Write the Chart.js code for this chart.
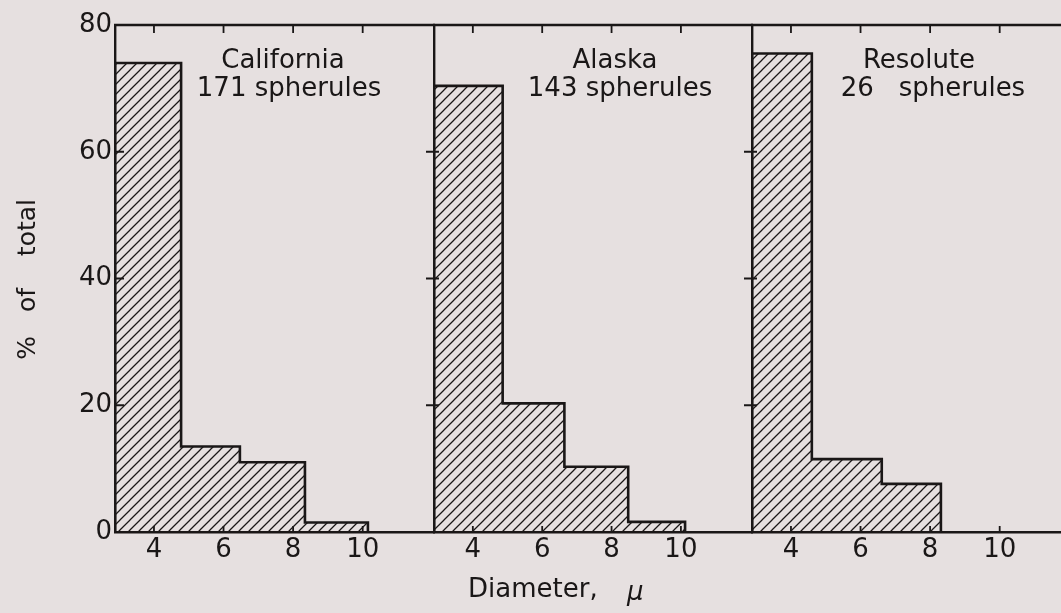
<!DOCTYPE html>
<html>
<head>
<meta charset="utf-8">
<script src="https://cdn.jsdelivr.net/npm/chart.js@4.4.1/dist/chart.umd.min.js"></script>
<style>
  html, body { margin: 0; padding: 0; width: 1061px; height: 613px; overflow: hidden; background: #e6e0e0; }
  #fig { position: relative; width: 1061px; height: 613px; }
  .panel { position: absolute; top: 0; }
</style>
</head>
<body>
<div id="fig"></div>
<script>
// Size distribution of spherules at three collection sites.
// Each site: diameter class edges (μ) and percent of total in each class.
const sites = ['California', 'Alaska', 'Resolute'];
const spheruleCounts = [171, 143, 26];

const californiaEdges = [2.88, 4.78, 6.47, 8.34, 10.15];
const californiaPercent = [74.0, 13.5, 11.0, 1.5];

const alaskaEdges = [2.88, 4.86, 6.64, 8.48, 10.12];
const alaskaPercent = [70.4, 20.3, 10.3, 1.6];

const resoluteEdges = [2.88, 4.60, 6.61, 8.31];
const resolutePercent = [75.5, 11.5, 7.6];

const diameterTicks = [4, 6, 8, 10];
const percentTicks = [0, 20, 40, 60, 80];

const siteEdges = [californiaEdges, alaskaEdges, resoluteEdges];
const sitePercent = [californiaPercent, alaskaPercent, resolutePercent];

// ---- look & layout ----
const INK = '#1a1717';
const FONT = '"DejaVu Sans", "Liberation Sans", sans-serif';
const TICK_PX = 26;
const CAPTION_PX = 26;
const X_MIN = 2.88, X_MAX = 12.05;
const Y_MIN = 0, Y_MAX = 80;
const PLOT_TOP = 25, AXIS_H = 81, PAGE_H = 613;
const panelLeft = [115, 434, 752];
const panelWidth = [319, 318, 319];
const overhang = 10;          // room left of panels 2 and 3 for the crossing ticks
const padRight = 6;
// caption placement inside each panel (px from panel left edge, px from page top)
const nameCenter = [168, 181, 167];
const countCenter = [174, 186, 181];
const countGap = [' ', ' ', '   '];
const NAME_Y = 61, COUNT_Y = 89;

// diagonal hatch used to fill the histogram bars
function makeHatch(period, color, width) {
  const c = document.createElement('canvas');
  c.width = c.height = period;
  const g = c.getContext('2d');
  g.strokeStyle = color;
  g.lineWidth = width;
  g.beginPath();
  g.moveTo(-1, period + 1); g.lineTo(period + 1, -1);
  g.moveTo(-1, 1); g.lineTo(1, -1);
  g.moveTo(period - 1, period + 1); g.lineTo(period + 1, period - 1);
  g.stroke();
  return g.createPattern(c, 'repeat');
}

// outline of a histogram as a stepped polyline closed down to zero
function histogramPoints(edges, values) {
  const pts = [{ x: edges[0], y: 0 }];
  values.forEach((v, i) => pts.push({ x: edges[i], y: v }));
  const last = edges[edges.length - 1];
  pts.push({ x: last, y: values[values.length - 1] });
  pts.push({ x: last, y: 0 });
  return pts;
}

// panel frame: top edge and inward tick marks, plus free-standing captions
const framePlugin = {
  id: 'frame',
  afterDatasetsDraw(chart, args, opts) {
    const { ctx, chartArea: a, scales: { x, y } } = chart;
    ctx.save();
    ctx.strokeStyle = INK;
    ctx.lineCap = 'butt';
    ctx.lineWidth = 2.4;
    ctx.beginPath();
    ctx.moveTo(a.left - 1, a.top);
    ctx.lineTo(a.right + 1, a.top);
    ctx.stroke();

    ctx.lineWidth = 1.8;
    ctx.beginPath();
    diameterTicks.forEach(v => {
      const px = x.getPixelForValue(v);
      ctx.moveTo(px, a.top);
      ctx.lineTo(px, a.top + 8);
      ctx.moveTo(px, a.bottom);
      ctx.lineTo(px, a.bottom - 6);
    });
    percentTicks.slice(1, -1).forEach(v => {
      const py = y.getPixelForValue(v);
      ctx.moveTo(a.left - opts.tickOut, py);
      ctx.lineTo(a.left + opts.tickIn, py);
    });
    ctx.stroke();

    ctx.fillStyle = INK;
    ctx.textBaseline = 'middle';
    (opts.texts || []).forEach(t => {
      ctx.save();
      ctx.font = (t.italic ? 'italic ' : '') + (t.size || CAPTION_PX) + 'px ' + FONT;
      ctx.translate(t.x, t.y);
      if (t.rotate) ctx.rotate(t.rotate);
      ctx.textAlign = t.align || 'center';
      ctx.fillText(t.text, 0, 0);
      ctx.restore();
    });
    ctx.restore();
  }
};

const fig = document.getElementById('fig');

sites.forEach((site, i) => {
  const first = i === 0;
  const canvasLeft = first ? 0 : panelLeft[i] - overhang;
  const yAxisW = first ? panelLeft[0] : 0;
  const padLeft = first ? 0 : overhang;
  const width = (panelLeft[i] - canvasLeft) + panelWidth[i] + padRight;

  const wrap = document.createElement('div');
  wrap.className = 'panel';
  wrap.style.left = canvasLeft + 'px';
  wrap.style.width = width + 'px';
  wrap.style.height = PAGE_H + 'px';
  const cv = document.createElement('canvas');
  cv.width = width; cv.height = PAGE_H;
  cv.style.width = width + 'px'; cv.style.height = PAGE_H + 'px';
  wrap.appendChild(cv);
  fig.appendChild(wrap);

  const off = panelLeft[i] - canvasLeft;   // panel left edge in canvas px
  const texts = [
    { text: site, x: off + nameCenter[i], y: NAME_Y },
    { text: spheruleCounts[i] + countGap[i] + 'spherules', x: off + countCenter[i], y: COUNT_Y }
  ];
  if (first) {
    texts.push({ text: '%   of    total', x: 28, y: 199, rotate: -Math.PI / 2, align: 'right', size: 25 });
  }
  if (i === 1) {
    texts.push({ text: 'Diameter,', x: off + 34, y: 590, align: 'left' });
    texts.push({ text: 'μ', x: off + 193, y: 593, align: 'left', italic: true });
  }

  new Chart(cv, {
    type: 'line',
    data: {
      datasets: [{
        label: site,
        data: histogramPoints(siteEdges[i], sitePercent[i]),
        stepped: 'before',
        fill: 'origin',
        backgroundColor: makeHatch(10, INK, 1.25),
        borderColor: INK,
        borderWidth: 2.6,
        borderJoinStyle: 'miter',
        pointRadius: 0,
        tension: 0
      }]
    },
    options: {
      responsive: false,
      animation: false,
      devicePixelRatio: 1,
      layout: { padding: { top: PLOT_TOP, right: padRight, bottom: 0, left: padLeft } },
      plugins: {
        legend: { display: false },
        tooltip: { enabled: false },
        frame: { tickOut: first ? 0 : 8, tickIn: first ? 9 : 5, texts }
      },
      scales: {
        x: {
          type: 'linear',
          position: 'bottom',
          min: X_MIN, max: X_MAX,
          afterBuildTicks: s => { s.ticks = diameterTicks.map(v => ({ value: v })); },
          afterFit: s => { s.height = AXIS_H; },
          grid: { display: false, drawTicks: false },
          border: { display: true, color: INK, width: 2.4 },
          ticks: {
            color: INK,
            font: { family: FONT, size: TICK_PX },
            padding: 3,
            maxRotation: 0,
            autoSkip: false
          }
        },
        y: {
          type: 'linear',
          position: 'left',
          min: Y_MIN, max: Y_MAX,
          afterBuildTicks: s => { s.ticks = percentTicks.map(v => ({ value: v })); },
          afterFit: s => { s.width = yAxisW; },
          grid: { display: false, drawTicks: false },
          border: { display: true, color: INK, width: 2.4 },
          ticks: {
            display: first,
            color: INK,
            font: { family: FONT, size: TICK_PX },
            padding: 3
          }
        }
      }
    },
    plugins: [framePlugin]
  });
});
</script>
</body>
</html>
